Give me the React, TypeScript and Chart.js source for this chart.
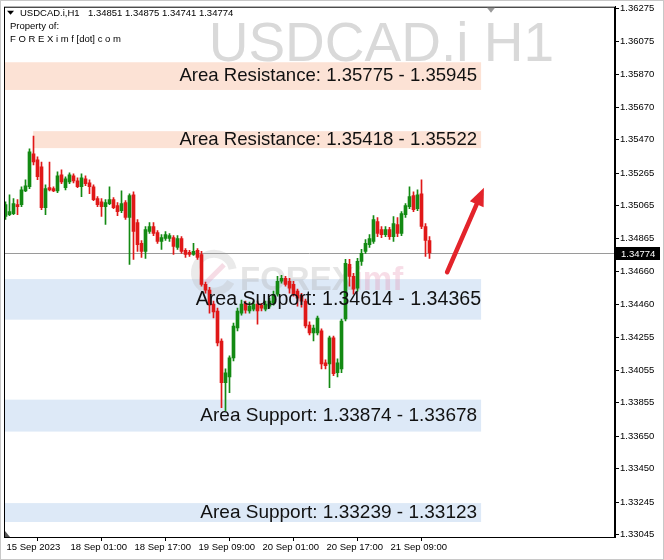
import { useEffect, useRef } from "react";
import { Chart, registerables } from "chart.js";

Chart.register(...registerables);

// ---------- data ----------
const symbolTitle = "USDCAD.i,H1";
const headerValues = ["1.34851", "1.34875", "1.34741", "1.34774"];
const watermarkText = "USDCAD.i H1";
const ownerLine1 = "Property of:";
const ownerLine2 = "F O R E X i m f [dot] c o m";
const currentPrice = 1.34774;

const opens = [
  1.34998, 1.3501, 1.35016, 1.35071, 1.35071, 1.35156, 1.35181, 1.35383, 1.35346, 1.35303,
  1.35053, 1.35175, 1.35169, 1.35156, 1.35254, 1.35175, 1.35211, 1.35248, 1.35217, 1.35181,
  1.3523, 1.35205, 1.35181, 1.35108, 1.35089, 1.35059, 1.35077, 1.35102, 1.35065, 1.35034,
  1.35083, 1.34992, 1.35132, 1.34961, 1.34833, 1.34784, 1.34906, 1.34937, 1.349, 1.34845,
  1.34863, 1.34863, 1.34869, 1.34808, 1.34863, 1.3479, 1.34778, 1.34765, 1.3479, 1.34765,
  1.34582, 1.34546, 1.3446, 1.34418, 1.34234, 1.33978, 1.34014, 1.3413, 1.34314, 1.34405,
  1.34466, 1.34418, 1.3443, 1.3446, 1.34454, 1.3443, 1.34448, 1.34466, 1.34521, 1.34601,
  1.34619, 1.34601, 1.34582, 1.3454, 1.34515, 1.34479, 1.34332, 1.34283, 1.34283, 1.34296,
  1.341, 1.34094, 1.34253, 1.34039, 1.34063, 1.34369, 1.34704, 1.34631, 1.34558, 1.34723,
  1.34784, 1.34826, 1.34845, 1.34967, 1.34918, 1.34887, 1.34918, 1.34875, 1.34949, 1.34894,
  1.3501, 1.35059, 1.35126, 1.35047, 1.35138, 1.34937, 1.34851,
];
const highs = [
  1.35089, 1.35132, 1.35108, 1.35102, 1.35181, 1.35223, 1.35413, 1.35492, 1.35364, 1.35333,
  1.35193, 1.35333, 1.35181, 1.35272, 1.35284, 1.35242, 1.35266, 1.3526, 1.35236, 1.3526,
  1.35248, 1.35224, 1.35193, 1.3512, 1.35108, 1.35102, 1.35181, 1.35114, 1.35083, 1.35156,
  1.35096, 1.35138, 1.3515, 1.3498, 1.34851, 1.34937, 1.34961, 1.34961, 1.34912, 1.34887,
  1.34906, 1.34894, 1.34881, 1.34881, 1.34875, 1.34802, 1.3479, 1.34833, 1.34802, 1.34784,
  1.34595, 1.34564, 1.34479, 1.34436, 1.34247, 1.34063, 1.34143, 1.34344, 1.34436, 1.34485,
  1.34479, 1.34473, 1.34479, 1.34479, 1.34466, 1.34479, 1.34497, 1.3454, 1.34631, 1.34637,
  1.34631, 1.34619, 1.34601, 1.34552, 1.34527, 1.34491, 1.34351, 1.34332, 1.34387, 1.34308,
  1.34118, 1.34265, 1.34265, 1.34124, 1.34369, 1.34735, 1.34735, 1.3465, 1.34741, 1.34796,
  1.34857, 1.34887, 1.35004, 1.34992, 1.34937, 1.34937, 1.34931, 1.34998, 1.34992, 1.35028,
  1.35077, 1.35181, 1.3515, 1.35162, 1.35224, 1.34955, 1.34875,
];
const lows = [
  1.3498, 1.35004, 1.3501, 1.3501, 1.35059, 1.3515, 1.35169, 1.35315, 1.35224, 1.3504,
  1.3501, 1.35156, 1.3515, 1.35144, 1.35199, 1.35162, 1.35199, 1.35205, 1.35175, 1.3512,
  1.35187, 1.35138, 1.35096, 1.35059, 1.34998, 1.34949, 1.35071, 1.35047, 1.35004, 1.35022,
  1.3498, 1.34704, 1.34735, 1.34784, 1.34747, 1.34741, 1.34894, 1.34881, 1.34833, 1.34796,
  1.34851, 1.34845, 1.34765, 1.34796, 1.34772, 1.34747, 1.34753, 1.34759, 1.34735, 1.3457,
  1.34527, 1.34405, 1.34375, 1.34204, 1.33825, 1.33807, 1.33917, 1.34112, 1.34296, 1.34393,
  1.34405, 1.34405, 1.34418, 1.34338, 1.34418, 1.34418, 1.34436, 1.34454, 1.34509, 1.34589,
  1.3457, 1.34527, 1.34509, 1.34448, 1.34442, 1.34314, 1.34271, 1.34234, 1.34271, 1.34063,
  1.34063, 1.33948, 1.34021, 1.34014, 1.34039, 1.34357, 1.3457, 1.34521, 1.3454, 1.34698,
  1.34772, 1.34808, 1.34833, 1.34875, 1.34869, 1.34875, 1.34857, 1.34845, 1.34875, 1.34881,
  1.34992, 1.35047, 1.35028, 1.35034, 1.34924, 1.34753, 1.34741,
];
const closes = [
  1.35071, 1.35028, 1.35077, 1.35059, 1.35162, 1.35187, 1.35395, 1.35333, 1.35242, 1.35053,
  1.35169, 1.35162, 1.35156, 1.35248, 1.35211, 1.3523, 1.35254, 1.35217, 1.35181, 1.35236,
  1.35199, 1.35181, 1.35102, 1.35071, 1.35059, 1.35083, 1.35102, 1.35053, 1.35028, 1.35077,
  1.34992, 1.35126, 1.34906, 1.34826, 1.34784, 1.34918, 1.34937, 1.34894, 1.34845, 1.34869,
  1.34887, 1.34881, 1.34814, 1.34863, 1.34784, 1.34765, 1.34765, 1.34784, 1.34747, 1.34582,
  1.34546, 1.34454, 1.34412, 1.34222, 1.33978, 1.34039, 1.3413, 1.34326, 1.34418, 1.3446,
  1.34424, 1.34448, 1.3446, 1.34418, 1.34436, 1.3446, 1.34479, 1.34521, 1.34601, 1.34619,
  1.34582, 1.34558, 1.34521, 1.34497, 1.34479, 1.34326, 1.34283, 1.34314, 1.34375, 1.34094,
  1.34082, 1.34253, 1.34033, 1.341, 1.34357, 1.34711, 1.34631, 1.34552, 1.34723, 1.34772,
  1.34833, 1.34863, 1.3498, 1.34894, 1.34887, 1.34918, 1.34875, 1.34955, 1.34894, 1.35016,
  1.35065, 1.3512, 1.3504, 1.35132, 1.34937, 1.34851, 1.34774,
];

const timeTickIndex = [0, 16, 32, 48, 64, 80, 96];
const timeTickLabels = [
  "15 Sep 2023",
  "18 Sep 01:00",
  "18 Sep 17:00",
  "19 Sep 09:00",
  "20 Sep 01:00",
  "20 Sep 17:00",
  "21 Sep 09:00",
];
const priceTicks = [
  1.36275, 1.36075, 1.3587, 1.3567, 1.3547, 1.35265, 1.35065, 1.34865, 1.3466, 1.3446,
  1.34255, 1.34055, 1.33855, 1.3365, 1.3345, 1.33245, 1.33045,
];

// zones (bar index range, price range)
const zoneStart = [-0.4, 6.9, -0.4, -0.4, -0.4];
const zoneEnd = [118.9, 118.9, 118.9, 118.9, 118.9];
const zoneLow = [1.35775, 1.35418, 1.34365, 1.33678, 1.33123];
const zoneHigh = [1.35945, 1.35522, 1.34614, 1.33874, 1.33239];
const zoneKind = ["resistance", "resistance", "support", "support", "support"];
const zoneLabels = [
  "Area Resistance: 1.35775 - 1.35945",
  "Area Resistance: 1.35418 - 1.35522",
  "Area Support: 1.34614 - 1.34365",
  "Area Support: 1.33874 - 1.33678",
  "Area Support: 1.33239 - 1.33123",
];

// arrow annotation (bar index, price)
const arrowFrom = [110.4, 1.34656];
const arrowTo = [119.6, 1.35175];

// ---------- styling ----------
const X_MIN = -0.375;
const X_MAX = 152.375;
const Y_MIN = 1.33031;
const Y_MAX = 1.36286;
const BULL = "#138a13";
const BEAR = "#e01818";
const AXIS_FONT = "'Liberation Sans', Arial, sans-serif";
const LABEL_SIZE = [18.6, 18.6, 19.6, 19, 19];
const LABEL_SHIFT = [0, 0, 4, 0, 0];

const decorPlugin = {
  id: "mt4Decor",
  beforeDatasetsDraw(chart: any) {
    const { ctx, chartArea: a, scales } = chart;
    const xs = scales.x;
    const ys = scales.y;
    ctx.save();
    ctx.beginPath();
    ctx.rect(a.left, a.top, a.right - a.left, a.bottom - a.top);
    ctx.clip();

    // watermark
    ctx.fillStyle = "#d9d9d9";
    ctx.font = "55px 'Liberation Sans', Arial, sans-serif";
    ctx.textAlign = "right";
    ctx.textBaseline = "alphabetic";
    ctx.fillText(watermarkText, a.left + 550, a.top + 54);

    // zones
    for (let i = 0; i < zoneLow.length; i++) {
      const x1 = Math.max(a.left, xs.getPixelForValue(zoneStart[i]));
      const x2 = xs.getPixelForValue(zoneEnd[i]);
      const y1 = ys.getPixelForValue(zoneHigh[i]);
      const y2 = ys.getPixelForValue(zoneLow[i]);
      ctx.fillStyle = zoneKind[i] === "resistance" ? "#fce2d5" : "#dde9f7";
      ctx.fillRect(x1, y1, x2 - x1, y2 - y1);
    }

    // faint logo watermark
    ctx.globalAlpha = 0.3;
    ctx.strokeStyle = "#b8b8b8";
    ctx.lineWidth = 8;
    ctx.beginPath();
    ctx.arc(a.left + 210, a.top + 266, 19, 0.5, Math.PI * 2 - 0.2);
    ctx.stroke();
    ctx.strokeStyle = "#e28aa8";
    ctx.lineWidth = 5;
    ctx.beginPath();
    ctx.moveTo(a.left + 202, a.top + 276);
    ctx.lineTo(a.left + 220, a.top + 258);
    ctx.stroke();
    ctx.font = "bold 33px 'Liberation Sans', Arial, sans-serif";
    ctx.textAlign = "left";
    ctx.fillStyle = "#a8a8a8";
    ctx.fillText("FOREX", a.left + 236, a.top + 283);
    const w = ctx.measureText("FOREX").width;
    ctx.fillStyle = "#e38fb0";
    ctx.fillText("imf", a.left + 236 + w, a.top + 283);
    ctx.globalAlpha = 1;

    // current price line
    const py = Math.round(ys.getPixelForValue(currentPrice)) + 0.5;
    ctx.strokeStyle = "#9a9a9a";
    ctx.lineWidth = 1;
    ctx.beginPath();
    ctx.moveTo(a.left, py);
    ctx.lineTo(a.right, py);
    ctx.stroke();
    ctx.restore();
  },
  afterDatasetsDraw(chart: any) {
    const { ctx, chartArea: a, scales } = chart;
    const xs = scales.x;
    const ys = scales.y;
    ctx.save();
    ctx.beginPath();
    ctx.rect(a.left, a.top, a.right - a.left, a.bottom - a.top);
    ctx.clip();

    // zone labels
    ctx.fillStyle = "#111";
    ctx.textAlign = "right";
    ctx.textBaseline = "middle";
    for (let i = 0; i < zoneLabels.length; i++) {
      ctx.font = `${LABEL_SIZE[i]}px 'Liberation Sans', Arial, sans-serif`;
      const x2 = xs.getPixelForValue(zoneEnd[i]);
      const yc = (ys.getPixelForValue(zoneHigh[i]) + ys.getPixelForValue(zoneLow[i])) / 2;
      ctx.fillText(zoneLabels[i], x2 - 4 + LABEL_SHIFT[i], yc);
    }

    // arrow
    const x1 = xs.getPixelForValue(arrowFrom[0]);
    const y1 = ys.getPixelForValue(arrowFrom[1]);
    const x2 = xs.getPixelForValue(arrowTo[0]);
    const y2 = ys.getPixelForValue(arrowTo[1]);
    const ang = Math.atan2(y2 - y1, x2 - x1);
    const headLen = 18;
    const headW = 7.5;
    const bx = x2 - headLen * Math.cos(ang);
    const by = y2 - headLen * Math.sin(ang);
    ctx.strokeStyle = "#e3242b";
    ctx.fillStyle = "#e3242b";
    ctx.lineWidth = 4.5;
    ctx.lineCap = "round";
    ctx.beginPath();
    ctx.moveTo(x1, y1);
    ctx.lineTo(bx, by);
    ctx.stroke();
    ctx.beginPath();
    ctx.moveTo(x2, y2);
    ctx.lineTo(bx + headW * Math.sin(ang), by - headW * Math.cos(ang));
    ctx.lineTo(bx - headW * Math.sin(ang), by + headW * Math.cos(ang));
    ctx.closePath();
    ctx.fill();
    ctx.restore();
  },
  afterDraw(chart: any) {
    const { ctx, chartArea: a, scales, width, height } = chart;
    const ys = scales.y;
    ctx.save();
    // outer window border
    ctx.strokeStyle = "#c8c8c8";
    ctx.lineWidth = 1;
    ctx.strokeRect(0.5, 0.5, width - 1, height - 1);
    // chart frame
    ctx.strokeStyle = "#000";
    ctx.strokeRect(a.left + 0.5, a.top + 0.5, a.right - a.left - 1, a.bottom - a.top);

    // chart shift marker
    ctx.fillStyle = "#9a9a9a";
    ctx.beginPath();
    ctx.moveTo(a.left + 483, a.top + 1);
    ctx.lineTo(a.left + 491, a.top + 1);
    ctx.lineTo(a.left + 487, a.top + 6);
    ctx.closePath();
    ctx.fill();
    ctx.fillStyle = "#555";
    ctx.beginPath();
    ctx.moveTo(a.left + 1, a.bottom - 6);
    ctx.lineTo(a.left + 1, a.bottom);
    ctx.lineTo(a.left + 6, a.bottom);
    ctx.closePath();
    ctx.fill();

    // current price label
    const py = Math.round(ys.getPixelForValue(currentPrice)) + 0.5;
    ctx.fillStyle = "#000";
    ctx.fillRect(a.right + 1, py - 6.5, 44, 13);
    ctx.fillStyle = "#fff";
    ctx.font = `9.5px ${AXIS_FONT}`;
    ctx.textAlign = "left";
    ctx.textBaseline = "middle";
    ctx.fillText(currentPrice.toFixed(5), a.right + 6, py + 0.5);

    // header text
    ctx.fillStyle = "#000";
    ctx.beginPath();
    ctx.moveTo(a.left + 3, a.top + 4);
    ctx.lineTo(a.left + 10, a.top + 4);
    ctx.lineTo(a.left + 6.5, a.top + 8);
    ctx.closePath();
    ctx.fill();
    ctx.font = `9.5px ${AXIS_FONT}`;
    ctx.textBaseline = "middle";
    ctx.fillText(symbolTitle, a.left + 16, a.top + 6.5);
    ctx.fillText(headerValues.join(" "), a.left + 84, a.top + 6.5);
    ctx.fillText(ownerLine1, a.left + 6, a.top + 20);
    ctx.fillText(ownerLine2, a.left + 6, a.top + 33);
    ctx.restore();
  },
};

export default function App() {
  const canvasRef = useRef<HTMLCanvasElement | null>(null);

  useEffect(() => {
    const canvas = canvasRef.current;
    if (!canvas) return;
    const idx = opens.map((_, i) => i);
    const colors = idx.map((i) => (closes[i] >= opens[i] ? BULL : BEAR));

    const chart = new Chart(canvas, {
      type: "bar",
      data: {
        datasets: [
          {
            label: "wick",
            data: idx.map((i) => ({ x: i, y: [lows[i], highs[i]] })) as any,
            backgroundColor: colors,
            barThickness: 1,
            grouped: false,
            borderWidth: 0,
            minBarLength: 1,
          } as any,
          {
            label: "body",
            data: idx.map((i) => ({ x: i, y: [opens[i], closes[i]] })) as any,
            backgroundColor: colors,
            barThickness: 3,
            grouped: false,
            borderWidth: 0,
            minBarLength: 1,
          } as any,
        ],
      },
      options: {
        animation: false,
        responsive: false,
        devicePixelRatio: 1,
        layout: { padding: { left: 4, top: 4, right: 0, bottom: 0 } },
        plugins: { legend: { display: false }, tooltip: { enabled: false }, title: { display: false } },
        scales: {
          x: {
            type: "linear",
            min: X_MIN,
            max: X_MAX,
            offset: false,
            grid: { drawOnChartArea: false, drawTicks: true, tickLength: 4, color: "#000" },
            border: { display: true, color: "#000" },
            ticks: {
              autoSkip: false,
              maxRotation: 0,
              align: "start",
              labelOffset: 1,
              padding: 1,
              color: "#000",
              font: { family: AXIS_FONT, size: 9.5 },
              callback: (_v: any, i: number) => timeTickLabels[i],
            },
            afterBuildTicks: (s: any) => {
              s.ticks = timeTickIndex.map((v) => ({ value: v }));
            },
            afterFit: (s: any) => {
              s.height = 23;
            },
          },
          y: {
            type: "linear",
            position: "right",
            min: Y_MIN,
            max: Y_MAX,
            grid: { drawOnChartArea: false, drawTicks: true, tickLength: 4, color: "#000" },
            border: { display: true, color: "#000" },
            ticks: {
              padding: 1,
              color: "#000",
              font: { family: AXIS_FONT, size: 9.5 },
              callback: (v: any) => Number(v).toFixed(5),
            },
            afterBuildTicks: (s: any) => {
              s.ticks = priceTicks.map((v) => ({ value: v }));
            },
            afterFit: (s: any) => {
              s.width = 49;
            },
          },
        },
      } as any,
      plugins: [decorPlugin],
    });
    return () => chart.destroy();
  }, []);

  return (
    <div style={{ position: "fixed", left: 0, top: 0, width: 664, height: 560, background: "#fff" }}>
      <canvas ref={canvasRef} width={664} height={560} style={{ display: "block" }} />
    </div>
  );
}
